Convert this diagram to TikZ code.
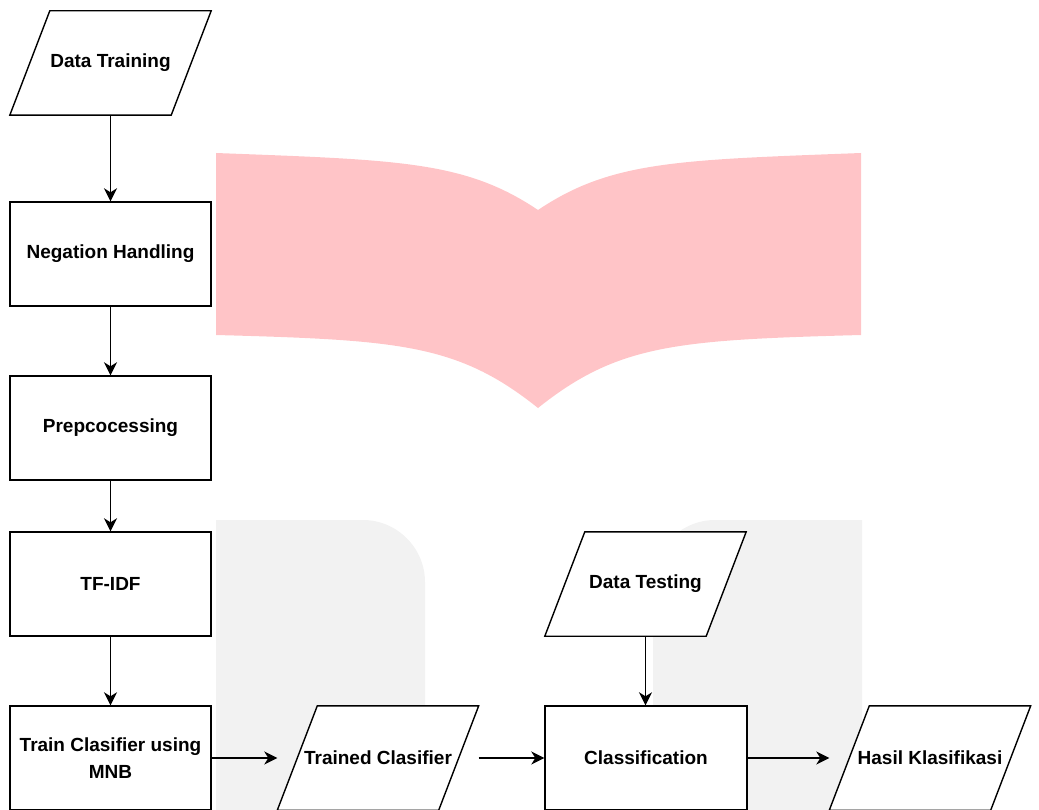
\documentclass[tikz,border=0pt]{standalone}
\usepackage{fontspec}
\setmainfont{Liberation Sans}
\usetikzlibrary{arrows.meta,calc,backgrounds}
\definecolor{pinkfill}{RGB}{255,196,199}
\definecolor{grayfill}{RGB}{242,242,242}
\tikzset{
  procbox/.style={draw=black, fill=white, line width=1.4pt, minimum width=201pt, minimum height=104pt, inner sep=0pt, align=center, font=\fontsize{19}{27}\selectfont\bfseries},
  iobox/.style={draw=none, minimum width=201pt, minimum height=104pt, inner sep=0pt, align=center, font=\fontsize{19}{27}\selectfont\bfseries},
  paraline/.style={draw=black, fill=white, line width=1.4pt, line join=miter},
  flow/.style={draw=black, line width=1.6pt, -{Stealth[length=13pt,width=13pt,inset=4pt]}},
}
\begin{document}
\begin{tikzpicture}[x=1pt,y=-1pt]
\useasboundingbox (0,0) rectangle (1039,810);
% nodes
\node[iobox] (dtrain) at (110.5,63) {Data Training};
\node[procbox] (neg) at (110.5,254) {Negation Handling};
\node[procbox] (prep) at (110.5,428) {Prepcocessing};
\node[procbox] (tfidf) at (110.5,584) {TF-IDF};
\node[procbox] (train) at (110.5,758) {Train Clasifier using\\MNB};
\node[iobox] (trained) at (378,758) {Trained Clasifier};
\node[procbox, minimum width=202pt] (cls) at (646,758) {Classification};
\node[iobox] (hasil) at (930,758) {Hasil Klasifikasi};
\node[iobox] (dtest) at (645.5,584) {Data Testing};
\begin{scope}[on background layer]
  % pink shape
  \fill[pinkfill] (216,153) .. controls (400,160) and (465,161) .. (538,210)
     -- (538,408) .. controls (458,344) and (400,340) .. (216,335) -- cycle;
  \fill[pinkfill] (861,153) .. controls (677,160) and (611,161) .. (538,210)
     -- (538,408) .. controls (618,344) and (677,340) .. (861,335) -- cycle;
  % gray shapes
  \fill[grayfill] (216,815) -- (216,520) -- (363,520) .. controls (397,520) and (425,548) .. (425,582) -- (425,815) -- cycle;
  \fill[grayfill] (862,815) -- (862,520) -- (715,520) .. controls (681,520) and (653,548) .. (653,582) -- (653,815) -- cycle;
  % parallelograms
  \foreach \n in {dtrain,trained,hasil,dtest}{
    \draw[paraline] ($(\n.north west)+(40,0)$) -- (\n.north east) -- ($(\n.south east)+(-40,0)$) -- (\n.south west) -- cycle;
  }
\end{scope}
% connectors
\draw[flow] (dtrain.south) -- (neg.north);
\draw[flow] (neg.south) -- (prep.north);
\draw[flow] (prep.south) -- (tfidf.north);
\draw[flow] (tfidf.south) -- (train.north);
\draw[flow] (train.east) -- (trained.west);
\draw[flow] (trained.east) -- (cls.west);
\draw[flow] (dtest.south) -- (dtest.south |- cls.north);
\draw[flow] (cls.east) -- (hasil.west);
\end{tikzpicture}
\end{document}
